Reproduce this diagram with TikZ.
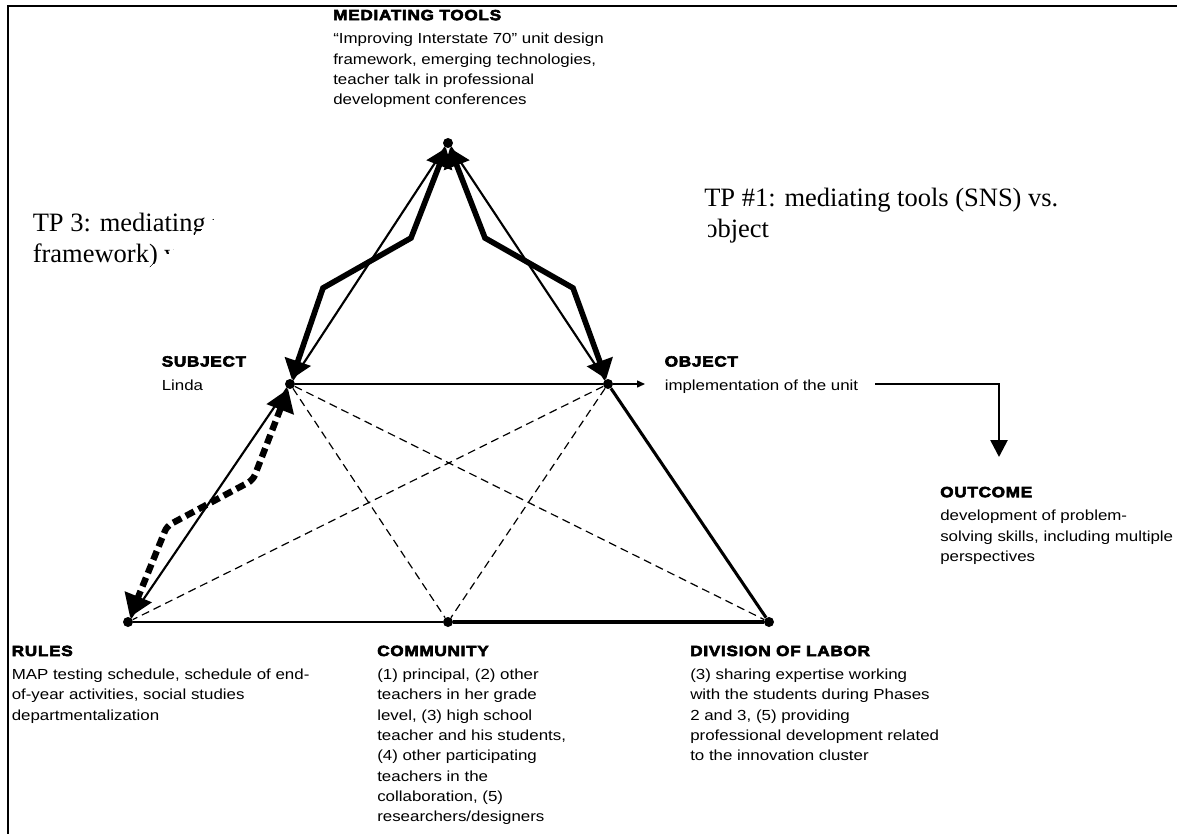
\documentclass[tikz,border=0pt]{standalone}
\usepackage{fontspec}
\usetikzlibrary{arrows.meta}

% Fonts: a slightly widened Arial-like sans for the labels, Times-like serif for the TP notes
\newfontfamily\bodyfont{Liberation Sans}[FakeStretch=1.157]
\newfontfamily\headfont{Liberation Sans}[FakeStretch=1.157,BoldFeatures={FakeBold=4,LetterSpace=5}]
\newfontfamily\tpfont{Liberation Serif}

\tikzset{
  vtx/.style={circle,fill=black,draw=none,inner sep=0pt,minimum size=7.5pt},
  heading/.style={anchor=base west,inner sep=0pt,
    font={\headfont\bfseries\fontsize{11.1}{13.3}\selectfont}},
  bodytext/.style={anchor=north west,inner sep=0pt,align=left,
    font={\bodyfont\fontsize{10.95}{15.225}\selectfont}},
  tptext/.style={anchor=north west,inner sep=0pt,align=left,
    font={\tpfont\fontsize{19.875}{23.25}\selectfont}},
  sideline/.style={line width=1.6pt},
  heavyside/.style={line width=2.3pt},
  baseline/.style={line width=1.9pt},
  thinline/.style={line width=1.1pt},
  crossdash/.style={line width=0.9pt,dash pattern=on 6pt off 3.75pt},
  medarrow/.style={line width=4.2pt,line join=miter,
    {Triangle[length=14pt,width=20pt]}-{Triangle[length=14pt,width=20pt]}},
  rulearrow/.style={line width=4.8pt,dash pattern=on 7pt off 3.75pt,rounded corners=4pt,
    {Triangle[length=16.5pt,width=21pt]}-{Triangle[length=16.5pt,width=21pt]}},
  outarrow/.style={line width=2pt,line join=miter,-{Triangle[length=12.75pt,width=12.75pt]}},
  smallarrow/.style={line width=1.1pt,-{Triangle[length=6pt,width=5.25pt]}},
}

\begin{document}
\begin{tikzpicture}[x=0.75pt,y=-0.75pt]
\useasboundingbox (0,0) rectangle (1177,834);

% frame
\draw[line width=1.5pt,line join=miter] (7.7,840) -- (7.7,5.7) -- (1180,5.7);

% activity-system vertices
\node[vtx] (apex)  at (448,143) {};
\node[vtx] (subj)  at (290,384) {};
\node[vtx] (obj)   at (608,384) {};
\node[vtx] (rules) at (128,622) {};
\node[vtx] (comm)  at (448,622) {};
\node[vtx] (div)   at (769,622) {};

% bend points and free ends
\coordinate (ml1) at (411,238);
\coordinate (ml2) at (323,288);
\coordinate (mr1) at (485,238);
\coordinate (mr2) at (573,288);
\coordinate (rd1) at (253,480);
\coordinate (rd2) at (167,526);
\coordinate (objtip) at (645,384);
\coordinate (outstart) at (875,384);
\coordinate (outtip) at (999,457);

% triangle sides
\draw[sideline] (apex) -- (subj);
\draw[sideline] (apex) -- (obj);
\draw[sideline] (rules) -- (subj);
\draw[heavyside] (obj) -- (div);
\draw[baseline] (rules) -- (comm);
\draw[heavyside] (comm) -- (div);
\draw[thinline] (subj) -- (obj);
\draw[smallarrow] (obj) -- (objtip);

% inner dashed connections
\draw[crossdash] (subj) -- (comm);
\draw[crossdash] (subj) -- (div);
\draw[crossdash] (obj) -- (rules);
\draw[crossdash] (obj) -- (comm);

% tensions
\draw[medarrow] (apex) -- (ml1) -- (ml2) -- (subj);
\draw[medarrow] (apex) -- (mr1) -- (mr2) -- (obj);
\draw[rulearrow] (subj) -- (rd1) -- (rd2) -- (rules);

% object to outcome
\draw[outarrow] (outstart) -| (outtip);

% labels
\node[heading] (mthead) at (333,20.2) {MEDIATING TOOLS};
\node[bodytext] (mtbody) at (333,29.3) {\strut“Improving Interstate 70” unit design\\framework, emerging technologies,\\teacher talk in professional\\development conferences};

\node[heading] (subjhead) at (161.5,366.5) {SUBJECT};
\node[bodytext] (subjbody) at (161.5,375.6) {\strut Linda};

\node[heading] (objhead) at (664.5,366.5) {OBJECT};
\node[bodytext] (objbody) at (664.5,375.6) {\strut implementation of the unit};

\node[heading] (outhead) at (940,497.2) {OUTCOME};
\node[bodytext] (outbody) at (940,506.3) {\strut development of problem-\\solving skills, including multiple\\perspectives};

\node[heading] (ruleshead) at (11.5,656) {RULES};
\node[bodytext] (rulesbody) at (11.5,665.1) {\strut MAP testing schedule, schedule of end-\\of-year activities, social studies\\departmentalization};

\node[heading] (commhead) at (377,656) {COMMUNITY};
\node[bodytext] (commbody) at (377,665.1) {\strut(1) principal, (2) other\\teachers in her grade\\level, (3) high school\\teacher and his students,\\(4) other participating\\teachers in the\\collaboration, (5)\\researchers/designers};

\node[heading] (divhead) at (690,656) {DIVISION OF LABOR};
\node[bodytext] (divbody) at (690,665.1) {\strut(3) sharing expertise working\\with the students during Phases\\2 and 3, (5) providing\\professional development related\\to the innovation cluster};

% tension notes, partly covered
\begin{scope}
  \clip (690,150) -- (1177,150) -- (1177,260) -- (707.5,260) -- (707.5,214) -- (690,214) -- cycle;
  \node[tptext] (tp1) at (704,184.3) {\strut TP \#1: mediating tools (SNS) vs.\\object};
\end{scope}
\begin{scope}
  \clip (0,150) -- (213,150) -- (213,221) -- (150,266) -- (140,280) -- (0,280) -- cycle;
  \node[tptext] (tp3) at (32.5,209.3) {\strut TP 3: mediating tools\\framework) vs.};
\end{scope}

\end{tikzpicture}
\end{document}
